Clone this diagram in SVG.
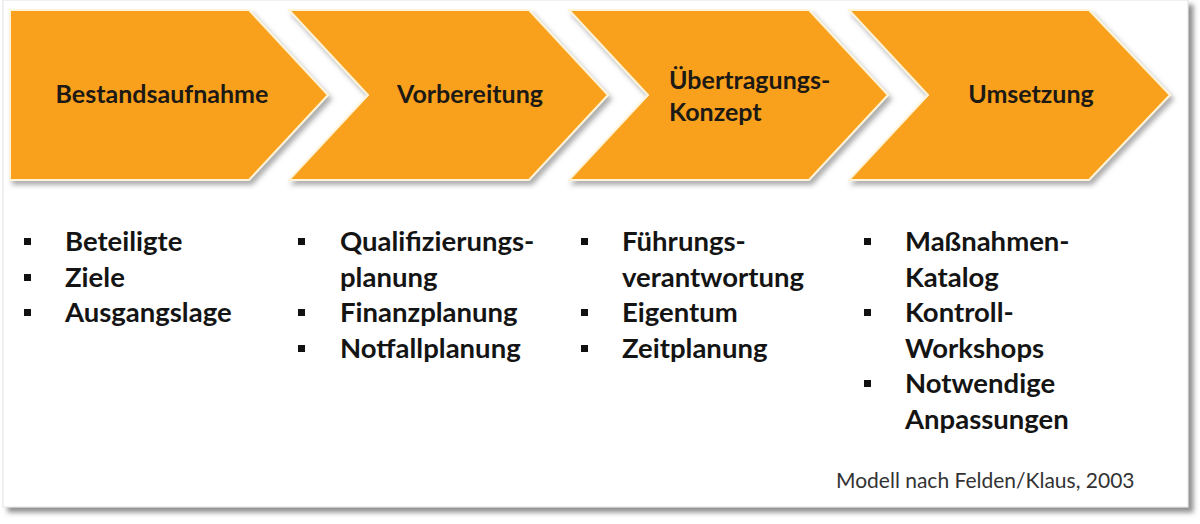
<svg xmlns="http://www.w3.org/2000/svg" width="1200" height="524" viewBox="0 0 1200 524">
  <defs>
    <filter id="panelShadow" x="-5%" y="-5%" width="115%" height="115%">
      <feDropShadow dx="5" dy="5" stdDeviation="2.5" flood-color="#555" flood-opacity="0.65"/>
    </filter>
    <filter id="chevShadow" x="-10%" y="-10%" width="125%" height="130%">
      <feDropShadow dx="3" dy="4" stdDeviation="2.5" flood-color="#6a6a6a" flood-opacity="0.55"/>
    </filter>
    <rect id="bullet" width="7" height="7" fill="#111"/>
  </defs>
  <style>
    .chev { fill: #F9A11B; stroke: #FFF4D8; stroke-width: 2; stroke-linejoin: miter; filter: url(#chevShadow); }
    .head { font-family: Lato, "Open Sans", "Liberation Sans", sans-serif; font-weight: 700; font-size: 25px; fill: #1d1915; }
    .item { font-family: Lato, "Open Sans", "Liberation Sans", sans-serif; font-weight: 700; font-size: 27.5px; fill: #141414; }
    .note { font-family: Lato, "Open Sans", "Liberation Sans", sans-serif; font-weight: 400; font-size: 21px; fill: #333; }
  </style>

  <rect x="0" y="0" width="1200" height="524" fill="#fff"/>
  <rect id="panel" x="3" y="0" width="1185" height="507" fill="#fff" stroke="#e2e2e2" stroke-width="1" filter="url(#panelShadow)"/>

  <g id="connectors"/>

  <g id="step1">
    <path class="chev" d="M10,10 L249,10 L328,95 L249,180 L10,180 Z"/>
    <text class="head" x="162" y="103" text-anchor="middle">Bestandsaufnahme</text>
  </g>
  <g id="step2">
    <path class="chev" d="M289,10 L529,10 L608,95 L529,180 L289,180 L368,95 Z"/>
    <text class="head" x="470" y="103" text-anchor="middle">Vorbereitung</text>
  </g>
  <g id="step3">
    <path class="chev" d="M569,10 L809,10 L888,95 L809,180 L569,180 L648,95 Z"/>
    <text class="head" x="669" y="89">Übertragungs-</text>
    <text class="head" x="669" y="121">Konzept</text>
  </g>
  <g id="step4">
    <path class="chev" d="M849,10 L1089,10 L1170,95 L1089,180 L849,180 L928,95 Z"/>
    <text class="head" x="1031" y="103" text-anchor="middle">Umsetzung</text>
  </g>

  <g id="list1">
    <use href="#bullet" x="24" y="238"/>
    <text class="item" x="65" y="251">Beteiligte</text>
    <use href="#bullet" x="24" y="274"/>
    <text class="item" x="65" y="286.5">Ziele</text>
    <use href="#bullet" x="24" y="309"/>
    <text class="item" x="65" y="322">Ausgangslage</text>
  </g>
  <g id="list2">
    <use href="#bullet" x="298" y="238"/>
    <text class="item" x="340" y="251">Qualifizierungs-</text>
    <text class="item" x="340" y="286.5">planung</text>
    <use href="#bullet" x="298" y="309"/>
    <text class="item" x="340" y="322">Finanzplanung</text>
    <use href="#bullet" x="298" y="345"/>
    <text class="item" x="340" y="357.5">Notfallplanung</text>
  </g>
  <g id="list3">
    <use href="#bullet" x="581" y="238"/>
    <text class="item" x="622" y="251">Führungs-</text>
    <text class="item" x="622" y="286.5">verantwortung</text>
    <use href="#bullet" x="581" y="309"/>
    <text class="item" x="622" y="322">Eigentum</text>
    <use href="#bullet" x="581" y="345"/>
    <text class="item" x="622" y="357.5">Zeitplanung</text>
  </g>
  <g id="list4">
    <use href="#bullet" x="864" y="238"/>
    <text class="item" x="905" y="251">Maßnahmen-</text>
    <text class="item" x="905" y="286.5">Katalog</text>
    <use href="#bullet" x="864" y="309"/>
    <text class="item" x="905" y="322">Kontroll-</text>
    <text class="item" x="905" y="357.5">Workshops</text>
    <use href="#bullet" x="864" y="380"/>
    <text class="item" x="905" y="393">Notwendige</text>
    <text class="item" x="905" y="428.5">Anpassungen</text>
  </g>

  <text id="source" class="note" x="836" y="488">Modell nach Felden/Klaus, 2003</text>
</svg>
